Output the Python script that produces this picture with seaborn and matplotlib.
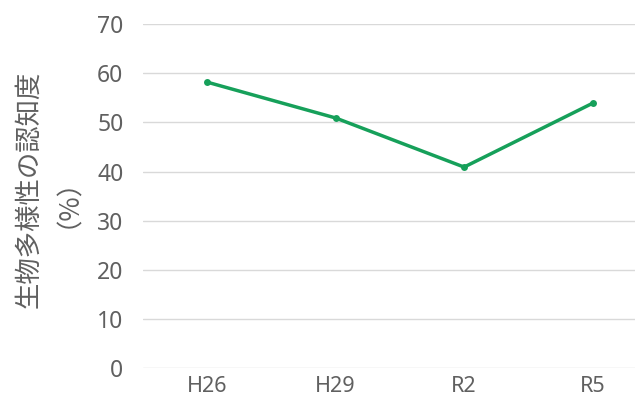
import matplotlib
matplotlib.use("Agg")
import matplotlib.pyplot as plt
import seaborn as sns
import pandas as pd

# Survey years and awareness of biodiversity (%)
years = ["H26", "H29", "R2", "R5"]
awareness = [58.2, 50.9, 40.9, 53.9]
y_ticks = [0, 10, 20, 30, 40, 50, 60, 70]

df = pd.DataFrame({"year": years, "awareness": awareness})

sns.set_theme(style="white")
plt.rcParams["font.family"] = ["Noto Sans CJK JP", "DejaVu Sans"]

fig = plt.figure(figsize=(6.35, 4.03), dpi=100)
ax = fig.add_axes([0.225, 0.087, 0.775, 0.853])

line_color = "#16a05a"
sns.lineplot(data=df, x="year", y="awareness", sort=False, ax=ax,
             color=line_color, linewidth=2.5, marker="o", markersize=5,
             markeredgewidth=0, zorder=3)

ax.set_ylim(0, 70)
ax.set_yticks(y_ticks)
ax.set_xlim(-0.5, 3.33)

ax.grid(axis="y", color="#d9d9d9", linewidth=1.0)
ax.grid(axis="x", visible=False)
for spine in ax.spines.values():
    spine.set_visible(False)

text_color = "#606060"
ax.tick_params(axis="y", length=0, pad=14, labelcolor=text_color)
ax.tick_params(axis="x", length=0, pad=6, labelcolor=text_color)
for lbl in ax.get_yticklabels():
    lbl.set_fontfamily(["Noto Sans", "DejaVu Sans"])
    lbl.set_fontsize(16.5)
for lbl in ax.get_xticklabels():
    lbl.set_fontfamily(["Noto Sans", "DejaVu Sans"])
    lbl.set_fontsize(15.5)

ax.set_xlabel("")
ax.set_ylabel("生物多様性の認知度\n（%）", fontsize=19, color=text_color,
              linespacing=0.95, va="center")
ax.yaxis.set_label_coords(-0.205, 0.52)

fig.savefig("out.png", dpi=100)
